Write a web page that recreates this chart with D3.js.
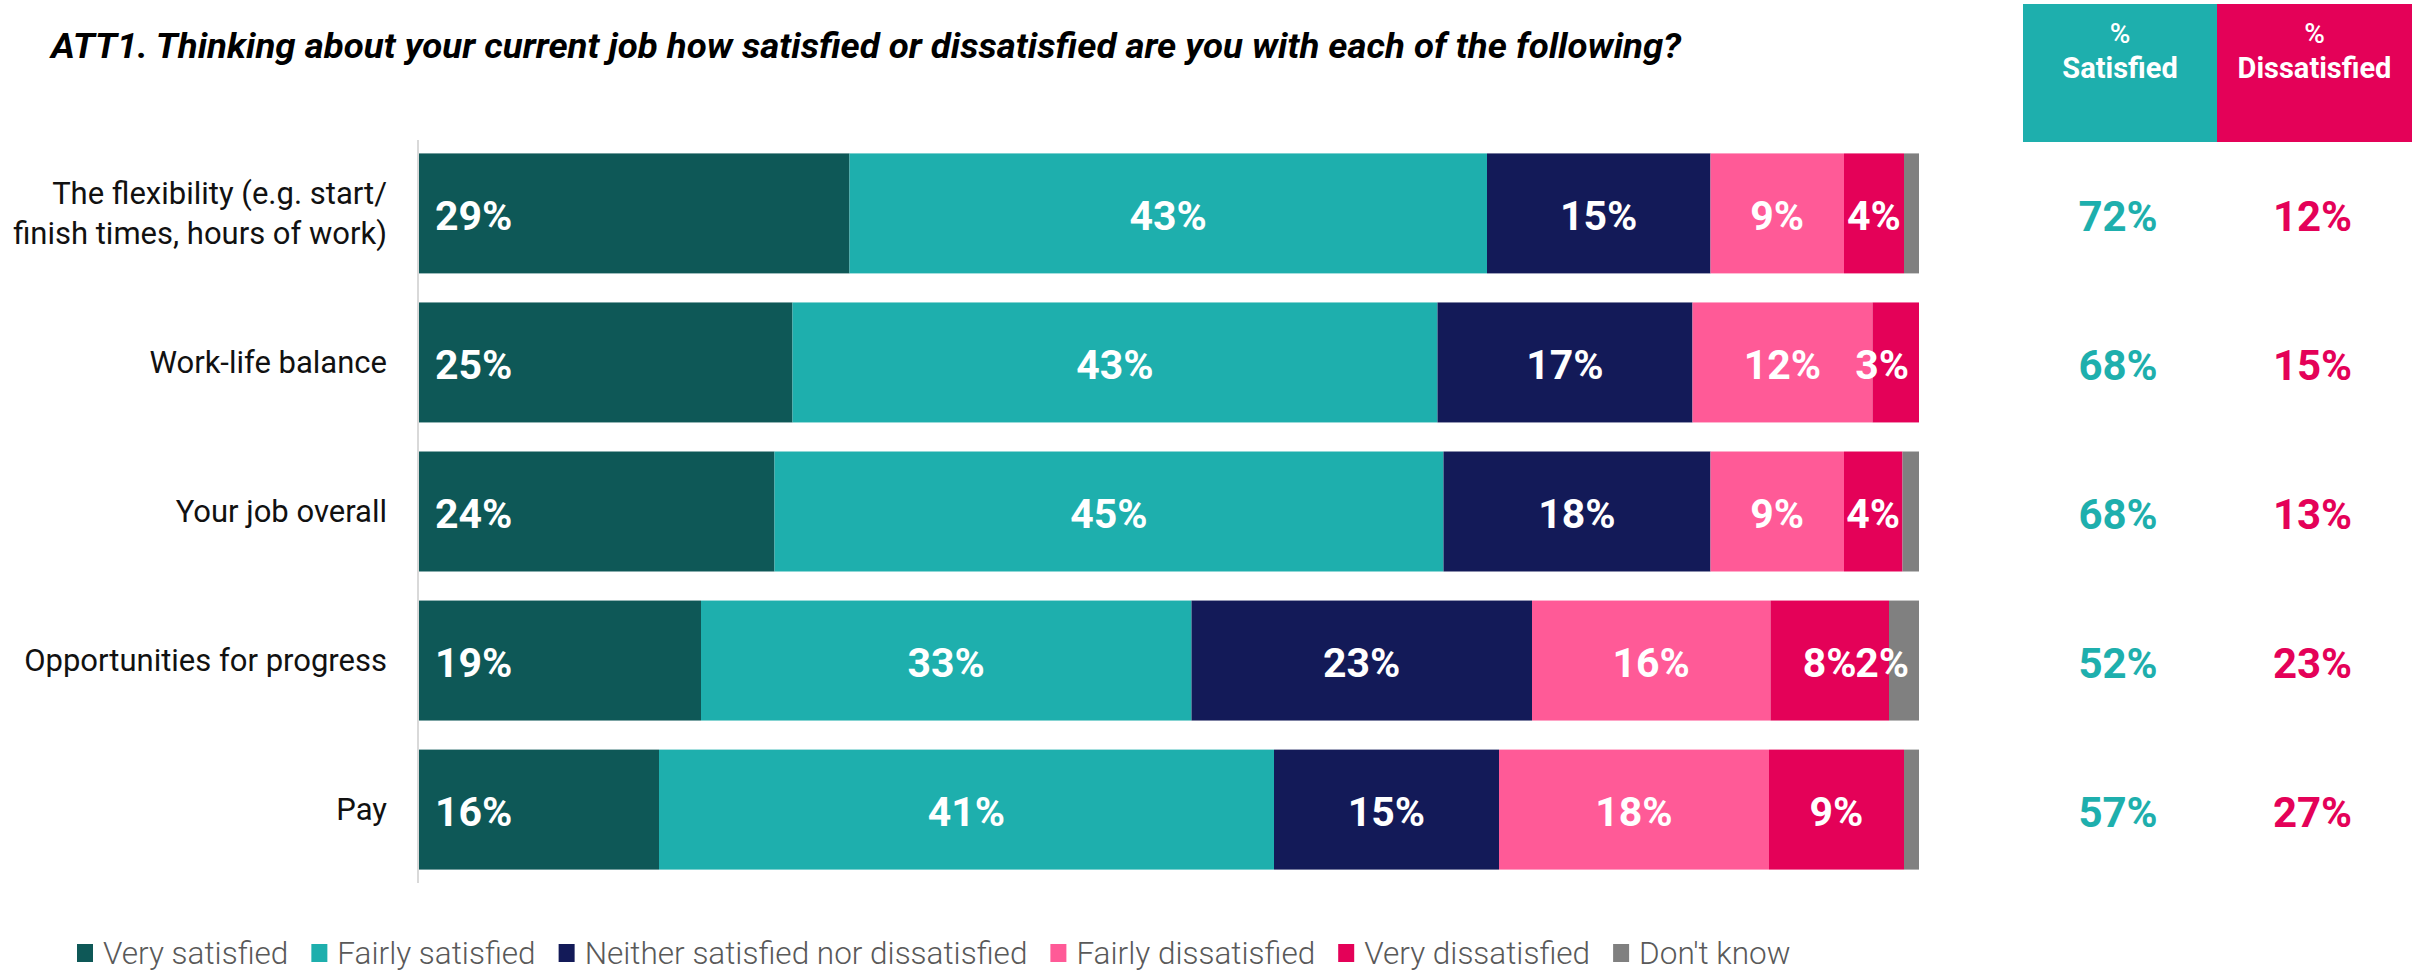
<!DOCTYPE html>
<html>
<head>
<meta charset="utf-8">
<script src="https://cdn.jsdelivr.net/npm/d3@7"></script>
<style>
  body { margin: 0; background: #fff; }
  svg { display: block; font-family: Roboto, sans-serif; }
</style>
</head>
<body>
<script>
// data
const categories = [
  ['The flexibility (e.g. start/', 'finish times, hours of work)'],
  ['Work-life balance'],
  ['Your job overall'],
  ['Opportunities for progress'],
  ['Pay']
]
const seriesNames = ['Very satisfied', 'Fairly satisfied', 'Neither satisfied nor dissatisfied', 'Fairly dissatisfied', 'Very dissatisfied', "Don't know"]
const verySatisfied = [28.7, 24.9, 23.7, 18.8, 16.0]
const fairlySatisfied = [42.5, 43.0, 44.6, 32.7, 41.0]
const neither = [14.9, 17.0, 17.8, 22.7, 15.0]
const fairlyDissatisfied = [8.9, 12.0, 8.9, 15.9, 18.0]
const veryDissatisfied = [4.0, 3.1, 3.9, 7.9, 9.0]
const dontKnow = [1.0, 0, 1.1, 2.0, 1.0]
const pctSatisfied = [72, 68, 68, 52, 57]
const pctDissatisfied = [12, 15, 13, 23, 27]

const colors = ['#0e5857', '#1eafad', '#131a58', '#ff5a97', '#e40158', '#808080']
const teal = '#1eafad', magenta = '#e40158'

const W = 2413, H = 977
const svg = d3.select('body').append('svg').attr('width', W).attr('height', H)

const seriesValues = [verySatisfied, fairlySatisfied, neither, fairlyDissatisfied, veryDissatisfied, dontKnow]
const rows = categories.map((c, i) => {
  const r = { key: i }
  seriesNames.forEach((s, j) => r[s] = seriesValues[j][i])
  return r
})
const stack = d3.stack().keys(seriesNames).offset(d3.stackOffsetExpand)(rows)

const x = d3.scaleLinear().domain([0, 1]).range([419, 1919])
const y = d3.scaleBand().domain(d3.range(categories.length)).range([140, 883])
  .paddingInner(0.195).paddingOuter(0.09)

// title
svg.append('text')
  .attr('x', 51).attr('y', 58)
  .attr('font-size', 35).attr('font-weight', 700).attr('font-style', 'italic')
  .attr('fill', '#000')
  .attr('textLength', 1630).attr('lengthAdjust', 'spacingAndGlyphs')
  .text('ATT1. Thinking about your current job how satisfied or dissatisfied are you with each of the following?')

// header boxes
const headers = [
  { label: 'Satisfied', color: teal, x0: 2023, x1: 2217, vals: pctSatisfied },
  { label: 'Dissatisfied', color: magenta, x0: 2217, x1: 2412, vals: pctDissatisfied }
]
const hdr = svg.append('g')
headers.forEach(h => {
  hdr.append('rect').attr('x', h.x0).attr('y', 4).attr('width', h.x1 - h.x0).attr('height', 138).attr('fill', h.color)
  const cx = (h.x0 + h.x1) / 2
  hdr.append('text').attr('x', cx).attr('y', 43).attr('text-anchor', 'middle')
    .attr('fill', '#fff').attr('font-size', 28).attr('font-weight', 500).text('%')
  hdr.append('text').attr('x', cx).attr('y', 78).attr('text-anchor', 'middle')
    .attr('fill', '#fff').attr('font-size', 29).attr('font-weight', 700).text(h.label)
  svg.append('g').selectAll('text').data(h.vals).join('text')
    .attr('x', cx - 2)
    .attr('y', (d, i) => y(i) + y.bandwidth() / 2)
    .attr('dy', '0.42em')
    .attr('text-anchor', 'middle')
    .attr('fill', h.color).attr('font-size', 42).attr('font-weight', 700)
    .text(d => d + '%')
})

// axis line
svg.append('line').attr('x1', 418).attr('x2', 418).attr('y1', 140).attr('y2', 883)
  .attr('stroke', '#d9d9d9').attr('stroke-width', 2)

// category labels
const lab = svg.append('g').selectAll('text').data(categories).join('text')
  .attr('text-anchor', 'end').attr('font-size', 31).attr('fill', '#111')
  .attr('transform', (d, i) => `translate(387,${y(i) + y.bandwidth() / 2})`)
lab.selectAll('tspan').data(d => d.map((t, k) => ({ t, k, n: d.length }))).join('tspan')
  .attr('x', 0)
  .attr('y', d => (d.k - (d.n - 1) / 2) * 40)
  .attr('dy', '0.35em')
  .text(d => d.t)

// bars
const layers = svg.append('g').selectAll('g').data(stack).join('g')
  .attr('fill', (d, i) => colors[i])
layers.selectAll('rect').data(d => d).join('rect')
  .attr('x', d => x(d[0]))
  .attr('y', d => y(d.data.key))
  .attr('width', d => x(d[1]) - x(d[0]))
  .attr('height', y.bandwidth())

// value labels
const barEnd = x(1)
stack.forEach((layer, si) => {
  const raw = seriesValues[si]
  svg.append('g').selectAll('text').data(layer.filter(d => Math.round(raw[d.data.key]) >= 2)).join('text')
    .attr('y', d => y(d.data.key) + y.bandwidth() / 2)
    .attr('dy', '0.4em')
    .attr('fill', '#fff').attr('font-size', 41).attr('font-weight', 700)
    .attr('text-anchor', si == 0 ? 'start' : 'middle')
    .text(d => Math.round(raw[d.data.key]) + '%')
    .attr('x', function(d) {
      if (si == 0) return x(d[0]) + 16
      const w = this.getComputedTextLength()
      const c = (x(d[0]) + x(d[1])) / 2
      return Math.min(c, barEnd - 10 - w / 2)
    })
})

// legend
const leg = svg.append('g').attr('transform', 'translate(77,953)')
let lx = 0
seriesNames.forEach((s, i) => {
  const item = leg.append('g').attr('transform', `translate(${lx},0)`)
  item.append('rect').attr('x', 0).attr('y', -9).attr('width', 16).attr('height', 18).attr('fill', colors[i])
  const t = item.append('text').attr('x', 26).attr('dy', '0.36em')
    .attr('font-size', 31.5).attr('font-weight', 300).attr('fill', '#595959').text(s)
  lx += 26 + t.node().getComputedTextLength() + 23
})
</script>
</body>
</html>
